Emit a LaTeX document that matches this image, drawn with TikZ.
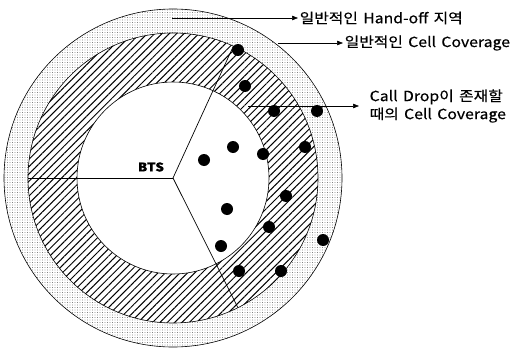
\documentclass[tikz,border=0pt]{standalone}
\usepackage{fontspec}
\setmainfont[FakeStretch=1.13, WordSpace=1.5, FakeBold=0.5]{Noto Sans CJK KR}
\usetikzlibrary{arrows.meta,patterns.meta,calc}
\tikzset{
  ring/.style={draw=black, line width=0.6pt},
  sector/.style={draw=black, line width=0.7pt},
  drop/.style={fill=black},
  callout/.style={draw=black, line width=0.6pt, -{Triangle[length=6pt,width=4.5pt]}},
  tag/.style={font=\fontsize{14}{18}\selectfont, inner sep=1.5pt, anchor=west, align=left}
}
\begin{document}
\begin{tikzpicture}[x=1pt, y=-1pt]
\useasboundingbox (0,0) rectangle (518,350);
\coordinate (bts) at (173,178);
% hand-off zone, usual coverage, call-drop coverage
\fill[white] (bts) circle[radius=169];
\fill[pattern={Dots[distance=2.5pt,radius=0.42pt]}, pattern color=black!75] (bts) circle[radius=169];
\draw[ring] (bts) circle[radius=169];
\fill[white] (bts) circle[radius=145];
\fill[pattern={Lines[angle=45,distance=5.2pt,line width=1pt]}] (bts) circle[radius=145];
\draw[ring] (bts) circle[radius=145];
\fill[white] (bts) circle[radius=96];
\draw[ring] (bts) circle[radius=96];
% sector borders
\coordinate (secW) at ($(bts)+(180:145)$);
\coordinate (secN) at ($(bts)+(-65.4:145)$);
\coordinate (secS) at ($(bts)+(63.4:145)$);
\draw[sector] (bts) -- (secW);
\draw[sector] (bts) -- (secN);
\draw[sector] (bts) -- (secS);
\node[font=\bfseries\fontsize{12}{14}\selectfont, inner sep=0pt] (btslbl) at (151,167) {BTS};
% call drops
\foreach \x/\y in {238/50, 245/86, 274/111, 317/111, 233/147, 204/160, 263/154, 305/147,
                   227/209, 286/196, 269/227, 323/240, 221/246, 239/271, 281/271} {
  \fill[drop] (\x,\y) circle[radius=6];
}
% labels
\node[tag] (handoff) at (298,18) {일반적인 Hand-off 지역};
\node[tag] (cellcov) at (343,43) {일반적인 Cell Coverage};
\node[tag] (calldrop) at (368,106) {Call Drop이 존재할\\때의 Cell Coverage};
\coordinate (hoStart) at (172,18);
\coordinate (ccStart) at (278,43);
\coordinate (cdStart) at (248,106);
\draw[callout] (hoStart) -- (handoff.west);
\draw[callout] (ccStart) -- (cellcov.west);
\draw[callout] (cdStart) -- ([xshift=-9pt]calldrop.west);
\end{tikzpicture}
\end{document}
